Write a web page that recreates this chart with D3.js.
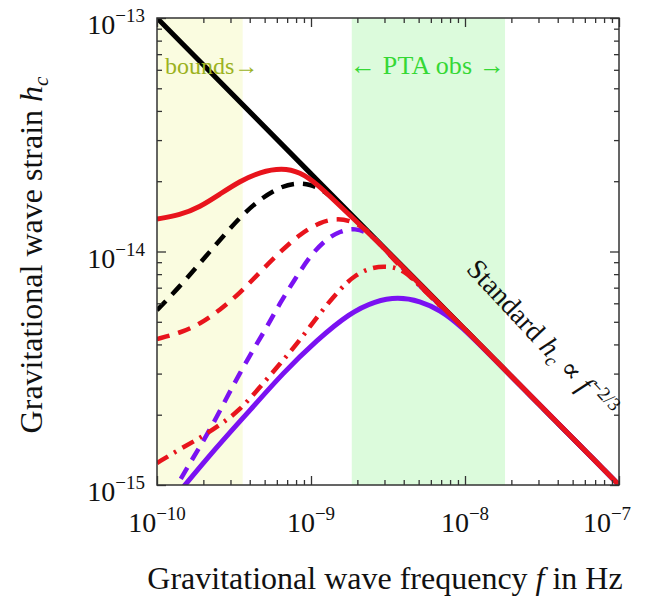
<!DOCTYPE html>
<html>
<head>
<meta charset="utf-8">
<script src="https://cdn.jsdelivr.net/npm/d3@7"></script>
<style>
  body { margin: 0; background: #fff; }
  svg { display: block; font-family: "Liberation Serif", "DejaVu Serif", serif; }
</style>
</head>
<body>
<div id="chart"></div>
<script>
// axis ranges and tick labels
const xDomain = [1e-10, 1e-7];
const yDomain = [1e-15, 1e-13];
const xTickValues = [1e-10, 1e-9, 1e-8, 1e-7];
const xTickExps = ["\u221210", "\u22129", "\u22128", "\u22127"];
const yTickValues = [1e-15, 1e-14, 1e-13];
const yTickExps = ["\u221215", "\u221214", "\u221213"];

// shaded frequency bands
const boundsBand = [1e-10, 3.6e-10];
const ptaBand = [1.84e-9, 1.82e-8];

// curves, [f in Hz, h_c]
const standard = [[1e-10, 1e-13], [1e-9, 2.15e-14], [1e-8, 4.64e-15], [1e-7, 1e-15]];

const redSolid = [
  [1e-10, 1.377e-14], [1.41e-10, 1.433e-14], [1.9e-10, 1.551e-14], [2.565e-10, 1.763e-14],
  [3.46e-10, 2.003e-14], [4.665e-10, 2.19e-14], [6.48e-10, 2.279e-14], [8.49e-10, 2.19e-14],
  [1.094e-9, 1.945e-14], [1.475e-9, 1.613e-14], [1.99e-9, 1.337e-14], [2.81e-9, 1.076e-14],
  [1e-8, 4.64e-15], [1e-7, 1e-15]
];

const blackDashed = [
  [1e-10, 5.6e-15], [1.41e-10, 7.1e-15], [1.9e-10, 8.93e-15], [2.565e-10, 1.12e-14],
  [3.46e-10, 1.405e-14], [4.665e-10, 1.678e-14], [6.29e-10, 1.889e-14], [7.87e-10, 1.965e-14],
  [9.85e-10, 1.945e-14], [1.233e-9, 1.816e-14], [1.543e-9, 1.581e-14], [2.08e-9, 1.311e-14],
  [3.26e-9, 9.76e-15], [1e-8, 4.64e-15], [1e-7, 1e-15]
];

const redDashed = [
  [1e-10, 4.22e-15], [1.41e-10, 4.477e-15], [1.9e-10, 4.89e-15], [2.565e-10, 5.62e-15],
  [3.46e-10, 6.64e-15], [4.665e-10, 8.17e-15], [6.29e-10, 9.95e-15], [8.49e-10, 1.189e-14],
  [1.144e-9, 1.337e-14], [1.497e-9, 1.391e-14], [1.93e-9, 1.337e-14], [2.415e-9, 1.212e-14],
  [3.023e-9, 1.015e-14], [3.784e-9, 8.67e-15], [5.1e-9, 7.11e-15], [1e-8, 4.64e-15], [1e-7, 1e-15]
];

const redDashDot = [
  [1e-10, 1.242e-15], [1.41e-10, 1.426e-15], [1.9e-10, 1.589e-15], [2.565e-10, 1.807e-15],
  [3.46e-10, 2.096e-15], [4.665e-10, 2.628e-15], [6.29e-10, 3.298e-15], [8.49e-10, 4.178e-15],
  [1.144e-9, 5.45e-15], [1.543e-9, 6.91e-15], [1.93e-9, 7.93e-15], [2.489e-9, 8.58e-15],
  [3.26e-9, 8.67e-15], [4.077e-9, 8.25e-15], [5.1e-9, 7.11e-15], [6.88e-9, 5.84e-15],
  [1e-8, 4.64e-15], [1e-7, 1e-15]
];

const purpleDashed = [
  [1.214e-10, 8.8e-16], [1.41e-10, 1.05e-15], [1.713e-10, 1.305e-15], [2.208e-10, 1.72e-15],
  [2.848e-10, 2.381e-15], [3.46e-10, 3.018e-15], [4.2e-10, 3.786e-15], [5.18e-10, 4.75e-15],
  [6.29e-10, 6.02e-15], [7.87e-10, 7.62e-15], [9.85e-10, 9.56e-15], [1.233e-9, 1.12e-14],
  [1.543e-9, 1.224e-14], [1.93e-9, 1.26e-14], [2.415e-9, 1.2e-14], [3.023e-9, 1.015e-14],
  [3.784e-9, 8.75e-15], [5.1e-9, 7.11e-15], [1e-8, 4.64e-15], [1e-7, 1e-15]
];

const purpleSolid = [
  [1.31e-10, 8.89e-16], [2.45e-10, 1.46e-15], [4.02e-10, 2.09e-15], [6.58e-10, 3.02e-15],
  [1.094e-9, 4.18e-15], [1.79e-9, 5.46e-15], [2.61e-9, 6.14e-15], [3.67e-9, 6.38e-15],
  [5.11e-9, 6.14e-15], [6.89e-9, 5.61e-15], [9.29e-9, 4.84e-15], [1.585e-8, 3.41e-15],
  [1e-7, 1e-15]
];

const red = "#e8141c";
const purple = "#7a12f2";

const series = [
  { data: standard, color: "#000", width: 5, dash: null },
  { data: blackDashed, color: "#000", width: 4.5, dash: "13,9" },
  { data: purpleDashed, color: purple, width: 4.5, dash: "13,9" },
  { data: redDashed, color: red, width: 4.5, dash: "13,9" },
  { data: redDashDot, color: red, width: 4.5, dash: "13,7,2.5,7" },
  { data: purpleSolid, color: purple, width: 5, dash: null },
  { data: redSolid, color: red, width: 5, dash: null }
];

const W = 648, H = 604;
const m = { left: 157, right: 619, top: 18, bottom: 485 };

const svg = d3.select("#chart").append("svg")
  .attr("width", W).attr("height", H);

const x = d3.scaleLog().domain(xDomain).range([m.left, m.right]);
const y = d3.scaleLog().domain(yDomain).range([m.bottom, m.top]);

svg.append("clipPath").attr("id", "plot")
  .append("rect")
  .attr("x", m.left).attr("y", m.top)
  .attr("width", m.right - m.left).attr("height", m.bottom - m.top);

const plot = svg.append("g").attr("clip-path", "url(#plot)");

// bands
plot.append("rect")
  .attr("x", x(boundsBand[0])).attr("y", m.top)
  .attr("width", x(boundsBand[1]) - x(boundsBand[0]))
  .attr("height", m.bottom - m.top)
  .attr("fill", "#fafce0");

plot.append("rect")
  .attr("x", x(ptaBand[0])).attr("y", m.top)
  .attr("width", x(ptaBand[1]) - x(ptaBand[0]))
  .attr("height", m.bottom - m.top)
  .attr("fill", "#dcfbdc");

const line = d3.line()
  .x(d => x(d[0]))
  .y(d => y(d[1]))
  .curve(d3.curveBasis);

series.forEach(s => {
  plot.append("path")
    .attr("d", line(s.data))
    .attr("fill", "none")
    .attr("stroke", s.color)
    .attr("stroke-width", s.width)
    .attr("stroke-dasharray", s.dash)
    .attr("stroke-linejoin", "round");
});

// ticks on all four sides, pointing in
const isMajor = v => Math.abs(Math.log10(v) - Math.round(Math.log10(v))) < 1e-6;
const xMinor = x.ticks().filter(v => !isMajor(v));
const yMinor = y.ticks().filter(v => !isMajor(v));

const axes = svg.append("g").attr("class", "ticks");
const addAxis = (axis, tx, ty) => {
  const g = axes.append("g").attr("transform", `translate(${tx},${ty})`).call(axis);
  g.select(".domain").remove();
  g.selectAll("text").remove();
  g.selectAll("line").attr("stroke", "#333").attr("stroke-width", 1.3);
};
addAxis(d3.axisBottom(x).tickValues(xTickValues).tickSize(-9), 0, m.bottom);
addAxis(d3.axisBottom(x).tickValues(xMinor).tickSize(-5), 0, m.bottom);
addAxis(d3.axisTop(x).tickValues(xTickValues).tickSize(-9), 0, m.top);
addAxis(d3.axisTop(x).tickValues(xMinor).tickSize(-5), 0, m.top);
addAxis(d3.axisLeft(y).tickValues(yTickValues).tickSize(-9), m.left, 0);
addAxis(d3.axisLeft(y).tickValues(yMinor).tickSize(-5), m.left, 0);
addAxis(d3.axisRight(y).tickValues(yTickValues).tickSize(-9), m.right, 0);
addAxis(d3.axisRight(y).tickValues(yMinor).tickSize(-5), m.right, 0);

svg.append("rect")
  .attr("x", m.left).attr("y", m.top)
  .attr("width", m.right - m.left).attr("height", m.bottom - m.top)
  .attr("fill", "none").attr("stroke", "#333").attr("stroke-width", 1.5);

// tick labels
const powerLabel = (g, exp) => {
  g.append("tspan").text("10");
  g.append("tspan").attr("dy", -12).attr("font-size", 19).text(exp);
};

xTickValues.forEach((v, i) => {
  const t = svg.append("text")
    .attr("x", Math.min(x(v), 607)).attr("y", 532)
    .attr("text-anchor", "middle")
    .attr("font-size", 28).attr("fill", "#111");
  powerLabel(t, xTickExps[i]);
});

yTickValues.forEach((v, i) => {
  const t = svg.append("text")
    .attr("x", 145).attr("y", y(v) + 16)
    .attr("text-anchor", "end")
    .attr("font-size", 28).attr("fill", "#111");
  powerLabel(t, yTickExps[i]);
});

// axis titles
const yt = svg.append("text")
  .attr("transform", "translate(42,255) rotate(-90)")
  .attr("text-anchor", "middle")
  .attr("font-size", 32).attr("fill", "#111");
yt.append("tspan").text("Gravitational wave strain ");
yt.append("tspan").attr("font-style", "italic").text("h");
yt.append("tspan").attr("font-style", "italic").attr("font-size", 21).attr("dy", 6).text("c");

const xt = svg.append("text")
  .attr("x", 385).attr("y", 589)
  .attr("text-anchor", "middle")
  .attr("font-size", 32).attr("fill", "#111");
xt.append("tspan").text("Gravitational wave frequency ");
xt.append("tspan").attr("font-style", "italic").text("f");
xt.append("tspan").text(" in Hz");

// annotations
svg.append("text")
  .attr("x", 165).attr("y", 74)
  .attr("font-size", 24).attr("fill", "#9bb21e")
  .text("bounds\u2192");

svg.append("text")
  .attr("x", 350).attr("y", 74)
  .attr("font-size", 26).attr("fill", "#35d835")
  .attr("textLength", 155)
  .text("\u2190 PTA obs \u2192");

const st = svg.append("text")
  .attr("transform", `translate(${x(2.85e-8)},${y(3.98e-15)}) rotate(47)`)
  .attr("text-anchor", "middle")
  .attr("font-size", 28).attr("fill", "#111");
st.append("tspan").text("Standard ");
st.append("tspan").attr("font-style", "italic").text("h");
st.append("tspan").attr("font-style", "italic").attr("font-size", 19).attr("dy", 5).text("c");
st.append("tspan").attr("dy", -5).text(" \u221d ");
st.append("tspan").attr("font-style", "italic").text("f");
st.append("tspan").attr("font-size", 19).attr("dy", -11).text("\u22122/3");
</script>
</body>
</html>
